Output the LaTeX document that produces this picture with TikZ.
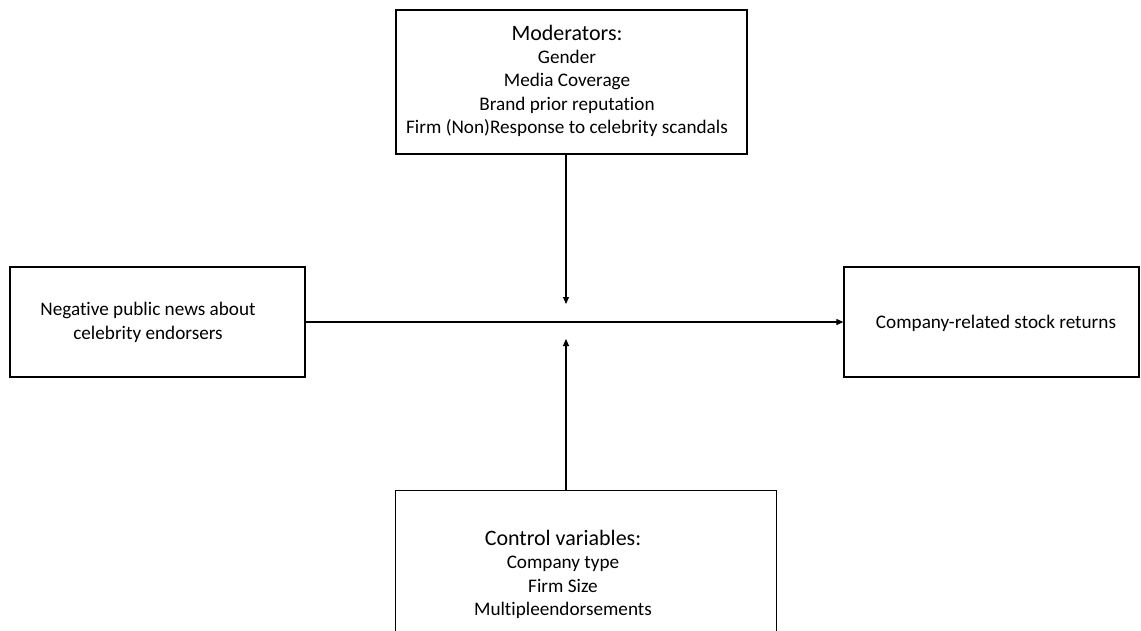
\documentclass[tikz,border=0pt]{standalone}
\usepackage{fontspec}
\setmainfont{Carlito}[Ligatures=NoCommon]
\usetikzlibrary{arrows.meta}
\begin{document}
\begin{tikzpicture}[x=1pt,y=-1pt,
  conn/.style={line width=1.1pt, -{Triangle[length=7pt,width=6pt]}},
  item/.style={font=\fontsize{19.2}{23.5}\selectfont, inner sep=0pt, anchor=base},
  head/.style={font=\fontsize{22}{23.5}\selectfont, inner sep=0pt, anchor=base},
  frame/.style={draw, line width=1.3pt, inner sep=0pt}
]
\useasboundingbox (0,0) rectangle (1141,630);
% boxes
\node[frame, minimum width=351pt, minimum height=144pt] (mod) at (571.5,82) {};
\node[frame, minimum width=295pt, minimum height=110pt] (neg) at (157.5,322) {};
\node[frame, minimum width=295pt, minimum height=110pt] (ret) at (991.5,322) {};
\node[minimum width=380pt, minimum height=150pt, inner sep=0pt] (ctl) at (586,566) {};
\draw[line width=1.3pt] (ctl.south west) -- (ctl.north west) -- (ctl.north east) -- (ctl.south east);
% texts
\node[head] (modh) at (567,40.5) {Moderators:};
\node[item] (m1) at (567,63) {Gender};
\node[item] (m2) at (567,86.5) {Media Coverage};
\node[item] (m3) at (567,110) {Brand prior reputation};
\node[item] (m4) at (567,133) {Firm (Non)Response to celebrity scandals};
\node[item] (n1) at (148,315) {Negative public news about};
\node[item] (n2) at (148,339.5) {celebrity endorsers};
\node[item] (r1) at (996,328) {Company-related stock returns};
\node[head] (ch) at (563,545) {Control variables:};
\node[item] (c1) at (563,568.5) {Company type};
\node[item] (c2) at (563,592) {Firm Size};
\node[item] (c3) at (563,615) {Multipleendorsements};
% connectors
\coordinate (jt) at (566,304);
\coordinate (jb) at (566,339);
\draw[conn] (neg.east) -- (ret.west);
\draw[conn] (mod.south -| jt) -- (jt);
\draw[conn] (ctl.north -| jb) -- (jb);
\end{tikzpicture}
\end{document}
